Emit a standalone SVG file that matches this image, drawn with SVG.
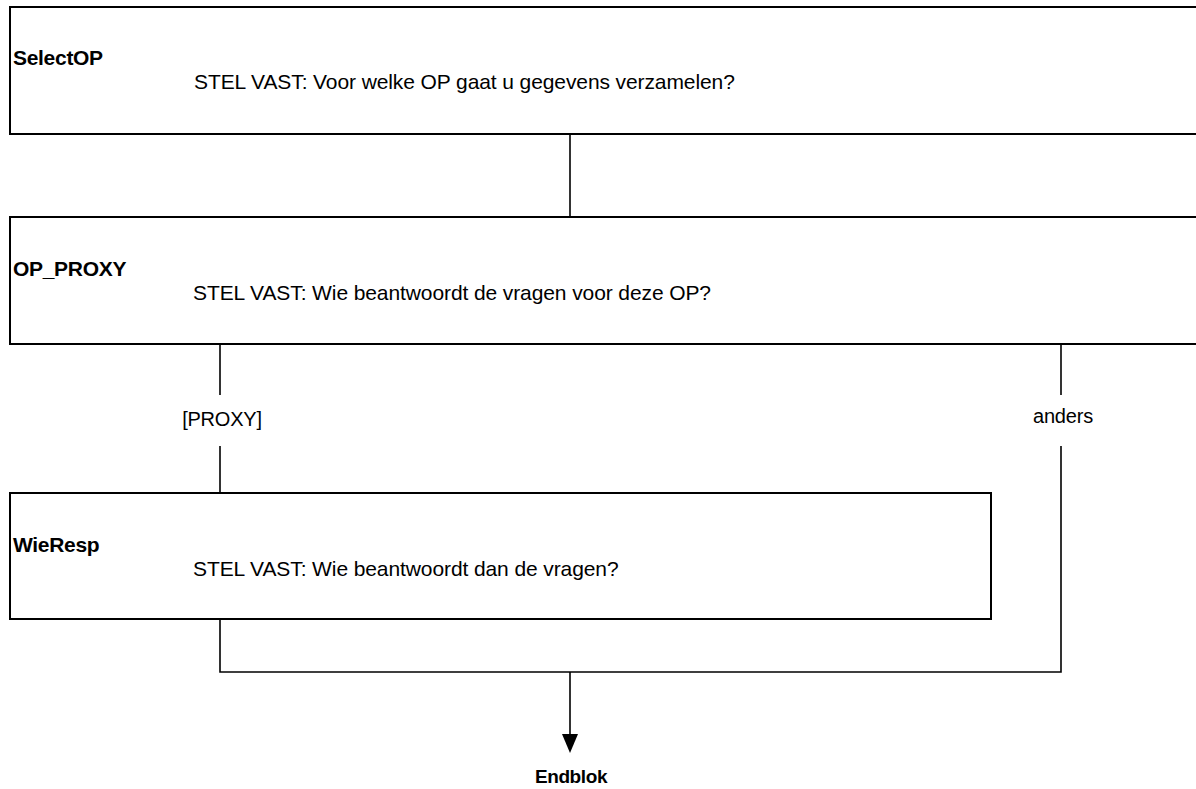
<svg xmlns="http://www.w3.org/2000/svg" width="1196" height="789" viewBox="0 0 1196 789">
<style>
.box{fill:#fff;stroke:#000;stroke-width:2}
.ln{fill:none;stroke:#000;stroke-width:1.6}
.lbl{font-family:"Liberation Sans",Arial,sans-serif;font-weight:bold;font-size:21px;letter-spacing:-0.3px;fill:#000}
.end{font-family:"Liberation Sans",Arial,sans-serif;font-weight:bold;font-size:19px;letter-spacing:-0.4px;fill:#000;text-anchor:middle}
.txt{font-family:"Liberation Sans",Arial,sans-serif;font-size:21px;letter-spacing:-0.1px;fill:#000}
.cl{font-family:"Liberation Sans",Arial,sans-serif;font-size:20px;letter-spacing:-0.2px;fill:#000;text-anchor:middle}
</style>
<rect width="1196" height="789" fill="#fff"/>
<g id="connectors">
<line class="ln" x1="570" y1="134" x2="570" y2="217"/>
<line class="ln" x1="220" y1="344" x2="220" y2="395"/>
<line class="ln" x1="220" y1="446" x2="220" y2="493"/>
<line class="ln" x1="1061" y1="344" x2="1061" y2="395"/>
<polyline class="ln" points="1061,446 1061,672 220,672 220,619"/>
<line class="ln" x1="570" y1="672" x2="570" y2="734"/>
<path d="M562,734 L578,734 L570,753 Z" fill="#000"/>
<text class="cl" x="222" y="426">[PROXY]</text>
<text class="cl" x="1063" y="423">anders</text>
</g>
<g id="SelectOP">
<rect class="box" x="10" y="7" width="1200" height="127"/>
<text class="lbl" x="13" y="65">SelectOP</text>
<text class="txt" x="194" y="89">STEL VAST: Voor welke OP gaat u gegevens verzamelen?</text>
</g>
<g id="OP_PROXY">
<rect class="box" x="10" y="217" width="1200" height="127"/>
<text class="lbl" x="13" y="276">OP_PROXY</text>
<text class="txt" x="193" y="300">STEL VAST: Wie beantwoordt de vragen voor deze OP?</text>
</g>
<g id="WieResp">
<rect class="box" x="10" y="493" width="981" height="126"/>
<text class="lbl" x="13" y="552">WieResp</text>
<text class="txt" x="193" y="576">STEL VAST: Wie beantwoordt dan de vragen?</text>
</g>
<g id="Endblok">
<text class="end" x="571" y="783">Endblok</text>
</g>
</svg>
